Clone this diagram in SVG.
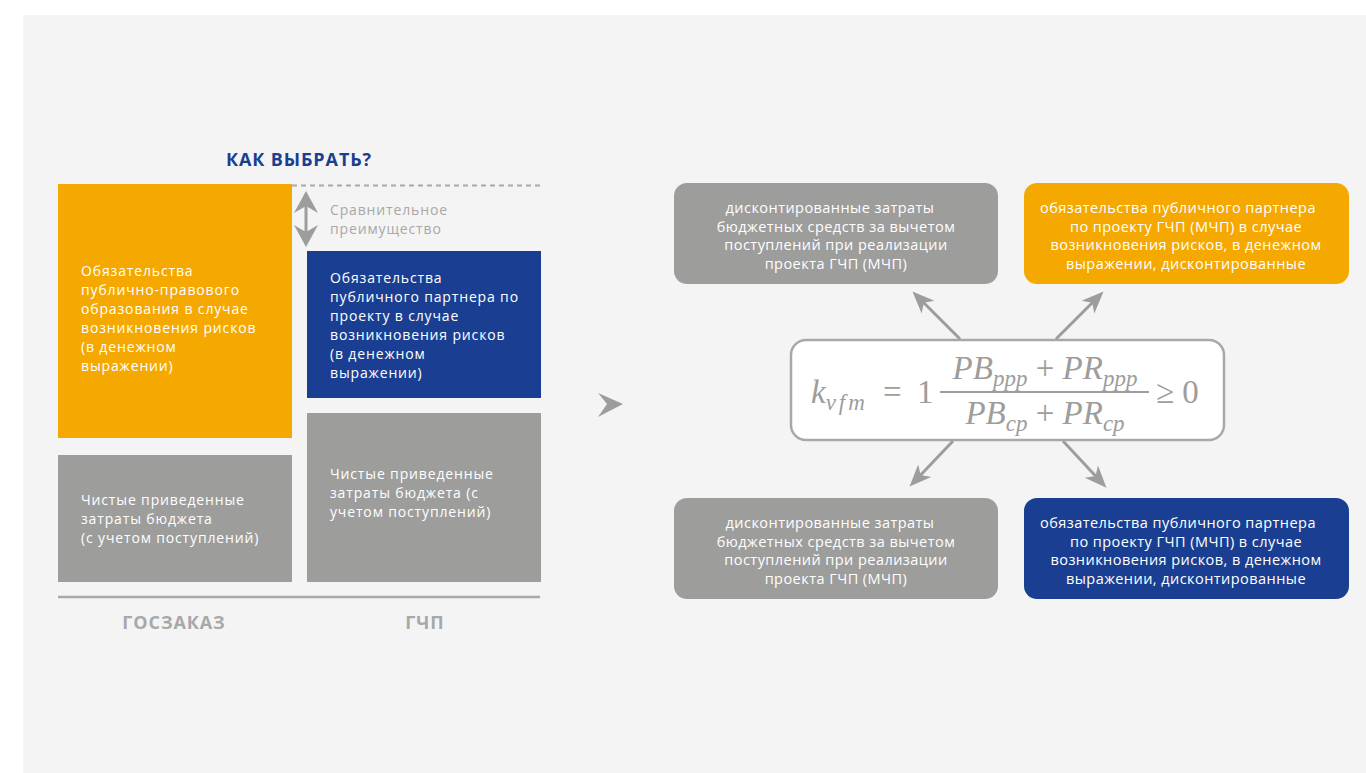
<svg xmlns="http://www.w3.org/2000/svg" width="1366" height="773" viewBox="0 0 1366 773">
<defs>
<style>
.t{font-family:"Open Sans","Noto Sans",sans-serif;font-size:14px;letter-spacing:0.85px;fill:#ffffff}
.b{font-family:"Open Sans","Noto Sans",sans-serif;font-size:14.5px;letter-spacing:0.45px;fill:#ffffff;text-anchor:middle}
.h{font-family:"Open Sans","Noto Sans",sans-serif;font-weight:bold;font-size:18px;letter-spacing:0.9px}
.m{font-family:"Liberation Serif",serif;fill:#9d9d9c}
.mi{font-style:italic}
.arr{stroke:#9d9d9c;stroke-width:3;fill:none}
</style>
<marker id="ah" viewBox="0 0 22 22" refX="17" refY="11" markerWidth="22" markerHeight="22" markerUnits="userSpaceOnUse" orient="auto">
<path d="M0,2 L22,11 L0,20 L6,11 Z" fill="#9d9d9c"/>
</marker>
</defs>
<rect width="1366" height="773" fill="#ffffff"/>
<rect x="23" y="15" width="1343" height="758" fill="#f4f4f4"/>

<text class="h" x="299" y="166" text-anchor="middle" fill="#1a3f92">КАК ВЫБРАТЬ?</text>

<g id="connectors">
<line x1="292" y1="185.5" x2="540" y2="185.5" stroke="#a8a8a8" stroke-width="2" stroke-dasharray="5,4"/>
<line x1="306" y1="200" x2="306" y2="238" stroke="#9d9d9c" stroke-width="3"/>
<path d="M306,191 L318,213 L306,206 L294,213 Z" fill="#9d9d9c"/>
<path d="M306,247 L318,225 L306,232 L294,225 Z" fill="#9d9d9c"/>
<line x1="58" y1="597" x2="540" y2="597" stroke="#a8a8a8" stroke-width="2.5"/>
<path d="M598,393 L623,404 L598,417 L607,404 Z" fill="#9d9d9c"/>
<line class="arr" x1="960" y1="339" x2="916" y2="295" marker-end="url(#ah)"/>
<line class="arr" x1="1056" y1="339" x2="1100" y2="295" marker-end="url(#ah)"/>
<line class="arr" x1="953" y1="441" x2="913" y2="483" marker-end="url(#ah)"/>
<line class="arr" x1="1063" y1="441" x2="1103" y2="484" marker-end="url(#ah)"/>
</g>

<g id="label-compare">
<text class="t" x="330" y="215" style="fill:#a8a8a8">Сравнительное</text>
<text class="t" x="330" y="234" style="fill:#a8a8a8">преимущество</text>
</g>

<g id="gos-risk">
<rect x="58" y="184" width="234" height="254" fill="#f5a800"/>
<text class="t" x="81" y="276">Обязательства</text>
<text class="t" x="81" y="295">публично-правового</text>
<text class="t" x="81" y="314">образования в случае</text>
<text class="t" x="81" y="333">возникновения рисков</text>
<text class="t" x="81" y="352">(в денежном</text>
<text class="t" x="81" y="371">выражении)</text>
</g>

<g id="gchp-risk">
<rect x="307" y="251" width="234" height="147" fill="#1a3f92"/>
<text class="t" x="330" y="283">Обязательства</text>
<text class="t" x="330" y="302">публичного партнера по</text>
<text class="t" x="330" y="321">проекту в случае</text>
<text class="t" x="330" y="340">возникновения рисков</text>
<text class="t" x="330" y="359">(в денежном</text>
<text class="t" x="330" y="378">выражении)</text>
</g>

<g id="gos-cost">
<rect x="58" y="455" width="234" height="127" fill="#9d9d9c"/>
<text class="t" x="81" y="505">Чистые приведенные</text>
<text class="t" x="81" y="524">затраты бюджета</text>
<text class="t" x="81" y="543">(с учетом поступлений)</text>
</g>

<g id="gchp-cost">
<rect x="307" y="413" width="234" height="169" fill="#9d9d9c"/>
<text class="t" x="330" y="479">Чистые приведенные</text>
<text class="t" x="330" y="498">затраты бюджета (с</text>
<text class="t" x="330" y="517">учетом поступлений)</text>
</g>

<text class="h" x="174" y="629" text-anchor="middle" fill="#a8a8a8">ГОСЗАКАЗ</text>
<text class="h" x="425" y="629" text-anchor="middle" fill="#a8a8a8">ГЧП</text>

<g id="formula">
<rect x="791" y="340" width="433" height="100" rx="15" fill="#ffffff" stroke="#a8a8a8" stroke-width="2.5"/>
<text class="m" x="811" y="403" font-size="33"><tspan class="mi">k</tspan><tspan class="mi" font-size="23" dy="7" letter-spacing="3">vfm</tspan></text>
<text class="m" x="883" y="403" font-size="33">=</text>
<text class="m" x="917" y="403" font-size="33">1</text>
<line x1="940" y1="392" x2="1149" y2="392" stroke="#9d9d9c" stroke-width="2"/>
<text class="m" x="1045" y="379" font-size="33" text-anchor="middle"><tspan class="mi">PB</tspan><tspan class="mi" font-size="23" dy="7">ppp</tspan><tspan dy="-7"> + </tspan><tspan class="mi">PR</tspan><tspan class="mi" font-size="23" dy="7">ppp</tspan></text>
<text class="m" x="1045" y="424" font-size="33" text-anchor="middle"><tspan class="mi">PB</tspan><tspan class="mi" font-size="23" dy="7">cp</tspan><tspan dy="-7"> + </tspan><tspan class="mi">PR</tspan><tspan class="mi" font-size="23" dy="7">cp</tspan></text>
<text class="m" x="1156" y="403" font-size="33">≥ 0</text>
</g>

<g id="box-tl">
<rect x="674" y="183" width="324" height="101" rx="13" fill="#9d9d9c"/>
<text class="b" x="830" y="213">дисконтированные затраты</text>
<text class="b" x="836" y="231.5">бюджетных средств за вычетом</text>
<text class="b" x="836" y="250">поступлений при реализации</text>
<text class="b" x="836" y="268.5">проекта ГЧП (МЧП)</text>
</g>

<g id="box-tr">
<rect x="1024" y="183" width="325" height="101" rx="13" fill="#f5a800"/>
<text class="b" x="1178" y="213">обязательства публичного партнера</text>
<text class="b" x="1186" y="231.5">по проекту ГЧП (МЧП) в случае</text>
<text class="b" x="1186" y="250">возникновения рисков, в денежном</text>
<text class="b" x="1186" y="268.5">выражении, дисконтированные</text>
</g>

<g id="box-bl">
<rect x="674" y="498" width="324" height="101" rx="13" fill="#9d9d9c"/>
<text class="b" x="830" y="528">дисконтированные затраты</text>
<text class="b" x="836" y="546.5">бюджетных средств за вычетом</text>
<text class="b" x="836" y="565">поступлений при реализации</text>
<text class="b" x="836" y="583.5">проекта ГЧП (МЧП)</text>
</g>

<g id="box-br">
<rect x="1024" y="498" width="325" height="101" rx="13" fill="#1a3f92"/>
<text class="b" x="1178" y="528">обязательства публичного партнера</text>
<text class="b" x="1186" y="546.5">по проекту ГЧП (МЧП) в случае</text>
<text class="b" x="1186" y="565">возникновения рисков, в денежном</text>
<text class="b" x="1186" y="583.5">выражении, дисконтированные</text>
</g>
</svg>
